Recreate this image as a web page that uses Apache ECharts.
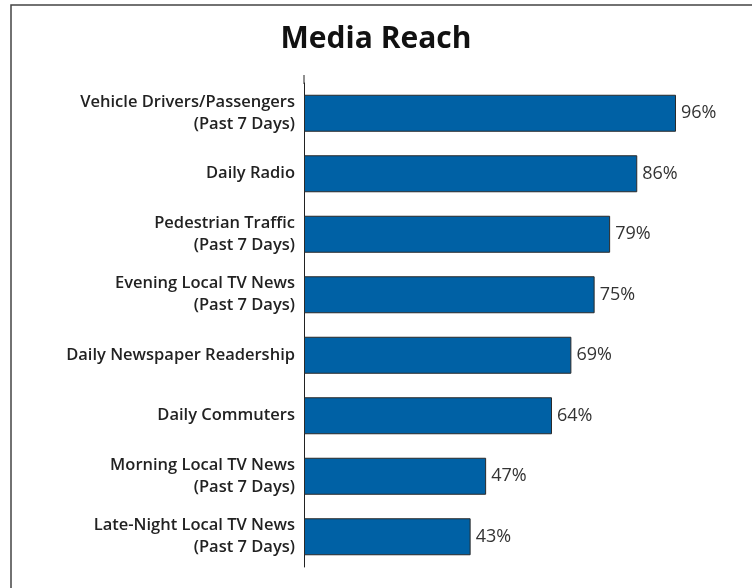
<!DOCTYPE html>
<html>
<head>
<meta charset="utf-8">
<script src="https://cdn.jsdelivr.net/npm/echarts@6/dist/echarts.min.js"></script>
<style>
  html, body { margin: 0; padding: 0; background: #fff; }
  #main { width: 752px; height: 588px; }
</style>
</head>
<body>
<div id="main"></div>
<script>
// media reach, top to bottom
const categories = [
  'Vehicle Drivers/Passengers\n(Past 7 Days)',
  'Daily Radio',
  'Pedestrian Traffic\n(Past 7 Days)',
  'Evening Local TV News\n(Past 7 Days)',
  'Daily Newspaper Readership',
  'Daily Commuters',
  'Morning Local TV News\n(Past 7 Days)',
  'Late-Night Local TV News\n(Past 7 Days)'
]
const reachValues = [96, 86, 79, 75, 69, 64, 47, 43]

const chart = echarts.init(document.getElementById('main'))

const option = {
  backgroundColor: '#fff',
  animation: false,
  title: {
    text: 'Media Reach',
    left: 'center',
    top: 19,
    textStyle: {
      fontFamily: 'Open Sans',
      fontSize: 30,
      fontWeight: 'bold',
      color: '#111'
    }
  },
  grid: {
    left: 304,
    right: 60.5,
    top: 83,
    bottom: 21
  },
  xAxis: {
    type: 'value',
    min: 0,
    max: 100,
    show: false
  },
  yAxis: {
    type: 'category',
    data: categories,
    inverse: true,
    axisLine: { show: true, lineStyle: { color: '#222', width: 1 } },
    axisTick: { show: false },
    axisLabel: {
      margin: 9,
      fontFamily: 'Open Sans',
      fontSize: 16.5,
      fontWeight: 600,
      lineHeight: 22,
      color: '#222'
    }
  },
  series: [
    {
      type: 'bar',
      data: reachValues,
      barWidth: 37,
      itemStyle: {
        color: '#0061a5',
        borderColor: '#2a2a2a',
        borderWidth: 1
      },
      label: {
        show: true,
        position: 'right',
        distance: 5,
        formatter: '{c}%',
        fontFamily: 'Open Sans',
        fontSize: 18,
        color: '#333'
      }
    }
  ]
}

chart.setOption(option)

// frame round the chart and the axis line stub above the first band
const axisX = chart.convertToPixel({ gridIndex: 0 }, [0, 0])[0]
chart.setOption({
  graphic: [
    {
      type: 'rect',
      shape: { x: 11, y: 5, width: 752, height: 600 },
      style: { fill: null, stroke: '#444', lineWidth: 1.5 },
      silent: true
    },
    {
      type: 'line',
      shape: { x1: axisX, y1: 75, x2: axisX, y2: 84 },
      style: { stroke: '#222', lineWidth: 1 },
      silent: true
    }
  ]
})
</script>
</body>
</html>
